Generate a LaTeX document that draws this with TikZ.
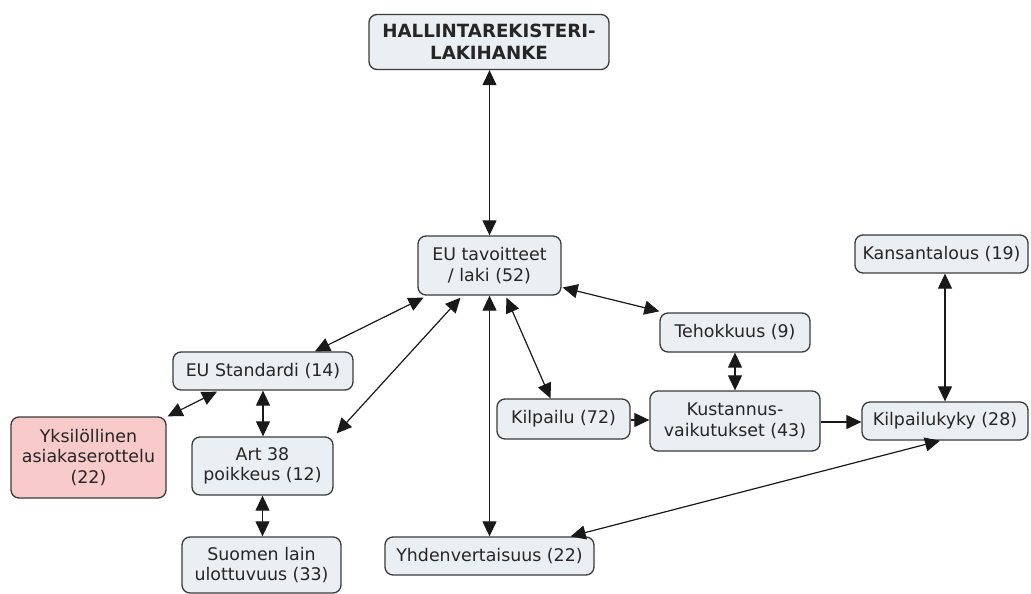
\documentclass[tikz,border=0pt]{standalone}
\usepackage{fontspec}
\setmainfont{DejaVu Sans}
\usetikzlibrary{arrows.meta,calc}

\definecolor{boxfill}{HTML}{E9EFF2}
\definecolor{boxline}{HTML}{3A3A3A}
\definecolor{pinkfill}{HTML}{F8CACA}

\tikzset{
  concept/.style={draw=boxline, line width=1.3pt, fill=boxfill, rounded corners=8pt,
    align=center, inner sep=0pt, text=black!85,
    font=\fontsize{17.4}{20.5}\selectfont},
  highlight/.style={concept, fill=pinkfill},
  title/.style={concept, font=\bfseries\fontsize{18.2}{22}\selectfont},
  link/.style={line width=1.2pt, black!90,
    {Triangle[length=15pt,width=14pt]}-{Triangle[length=15pt,width=14pt]}},
  onelink/.style={line width=1.2pt, black!90, -{Triangle[length=15pt,width=14pt]}}
}

\begin{document}
\begin{tikzpicture}[x=1pt,y=-1pt]
\useasboundingbox (0,0) rectangle (1031,594);

% concepts
\node[title, minimum width=240pt, minimum height=55pt] (hall) at (489,42)
  {HALLINTAREKISTERI-\\LAKIHANKE};
\node[concept, minimum width=143pt, minimum height=59pt] (eut) at (489.5,265.5)
  {EU tavoitteet\\/ laki (52)};
\node[concept, minimum width=180pt, minimum height=38pt] (std) at (263,371)
  {EU Standardi (14)};
\node[highlight, minimum width=155pt, minimum height=81pt] (yks) at (88.5,457.5)
  {Yksilöllinen\\asiakaserottelu\\(22)};
\node[concept, minimum width=141pt, minimum height=58pt] (art) at (262.5,466)
  {Art 38\\poikkeus (12)};
\node[concept, minimum width=159pt, minimum height=56pt] (suo) at (261.5,565)
  {Suomen lain\\ulottuvuus (33)};
\node[concept, minimum width=133pt, minimum height=40pt] (kil) at (563.5,419)
  {Kilpailu (72)};
\node[concept, minimum width=150pt, minimum height=39pt] (teh) at (735,332.5)
  {Tehokkuus (9)};
\node[concept, minimum width=170pt, minimum height=60pt] (kus) at (735,421)
  {Kustannus-\\vaikutukset (43)};
\node[concept, minimum width=166pt, minimum height=38pt] (kk) at (945,421)
  {Kilpailukyky (28)};
\node[concept, minimum width=173pt, minimum height=38pt] (kans) at (941.5,254)
  {Kansantalous (19)};
\node[concept, minimum width=209pt, minimum height=38pt] (yhd) at (489.5,556)
  {Yhdenvertaisuus (22)};

% connections
\draw[link] (eut.north) -- (eut.north |- hall.south);
\draw[link] ($(eut.south)+(-66,2)$) -- ($(std.north)+(52,0)$);
\draw[link] ($(eut.south)+(-29,2)$) -- ($(art.north east)+(3,-3)$);
\draw[link] ($(std.south)+(-46,1)$) -- ($(yks.north east)+(1,0)$);
\draw[link] (std.south) -- (std.south |- art.north);
\draw[link] (art.south) -- (art.south |- suo.north);
\draw[link] (eut.south) -- (eut.south |- yhd.north);
\draw[link] ($(eut.south)+(17,2)$) -- ($(kil.north)+(-13,0)$);
\draw[link] ($(eut.east)+(1,22)$) -- ($(teh.north west)+(0,-1)$);
\draw[link] (teh.south) -- (teh.south |- kus.north);
\draw[onelink] (kil.east |- 0,420) -- (kus.west |- 0,420);
\draw[onelink] (kus.east |- 0,422) -- (kk.west |- 0,422);
\draw[link] (kk.north) -- (kk.north |- kans.south);
\draw[link] ($(yhd.north east)+(-24,0)$) -- ($(kk.south)+(-5,0)$);
\end{tikzpicture}
\end{document}
